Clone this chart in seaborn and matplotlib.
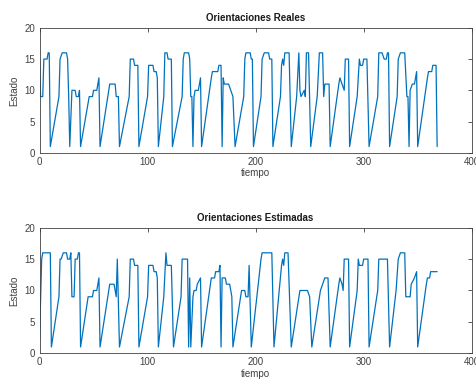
import pandas as pd
import matplotlib
matplotlib.use("Agg")
import matplotlib.pyplot as plt
import seaborn as sns

# vertices of the real orientation trace (tiempo, estado)
t_real = [0, 1, 3, 4, 7, 8, 9, 10, 18, 19, 21, 25, 26, 27, 28, 30, 33, 34, 36, 37, 38,
          46, 49, 50, 53, 55, 56, 65, 70, 71, 73, 74, 83, 84, 87, 88, 91, 92,
          100, 101, 105, 106, 108, 109, 110, 115, 116, 118, 119, 122, 123,
          132, 133, 134, 138, 139, 140, 141, 142, 143, 144, 147, 149, 150,
          159, 160, 165, 166, 168, 169, 170, 171, 175, 177, 179, 181,
          189, 190, 191, 195, 196, 197, 198, 205, 206, 208, 212, 213, 215, 216,
          223, 224, 225, 226, 227, 231, 233, 238, 240, 241, 242, 245, 246, 247, 249, 251,
          257, 259, 262, 263, 264, 268, 269, 277, 278, 280, 282, 283, 286, 287,
          294, 296, 297, 299, 300, 303, 305, 313, 314, 317, 319, 321, 322, 323, 324,
          331, 332, 334, 338, 340, 341, 342, 343, 345, 347, 349, 350,
          359, 360, 363, 364, 367, 368]
v_real = [15, 9, 9, 15, 15, 16, 16, 1, 9, 15, 16, 16, 15, 9, 1, 10, 10, 9, 9, 10, 1,
          9, 9, 10, 10, 12, 1, 11, 11, 9, 9, 1, 9, 15, 15, 14, 14, 1,
          9, 14, 14, 13, 13, 12, 1, 9, 16, 16, 15, 15, 1,
          9, 15, 16, 16, 15, 9, 9, 1, 9, 10, 10, 12, 1,
          12, 13, 13, 14, 14, 1, 12, 11, 11, 10, 9, 1,
          9, 15, 16, 16, 15, 15, 1, 9, 15, 16, 16, 15, 15, 1,
          9, 14, 15, 14, 16, 16, 1, 9, 16, 10, 9, 10, 9, 16, 16, 1,
          9, 16, 16, 9, 11, 11, 1, 11, 12, 11, 10, 15, 15, 1,
          9, 15, 14, 14, 15, 15, 1, 9, 16, 16, 15, 15, 16, 16, 1,
          9, 15, 16, 16, 9, 9, 1, 10, 11, 11, 13, 1,
          12, 13, 13, 14, 14, 1]

# vertices of the estimated orientation trace
t_est = [0, 2, 3, 10, 11, 18, 19, 20, 22, 25, 26, 28, 29, 30, 32, 33, 35, 36, 37, 38,
         45, 49, 50, 53, 55, 56, 65, 69, 70, 71, 72, 74, 83, 84, 87, 88, 91, 92,
         100, 101, 105, 106, 108, 109, 110, 115, 117, 118, 122, 124,
         131, 132, 137, 138, 139, 140, 142, 143, 145, 146, 149, 150,
         159, 162, 163, 166, 167, 168, 169, 172, 173, 176, 177, 178, 179,
         187, 190, 191, 193, 194, 196, 205, 206, 215, 217,
         224, 225, 226, 227, 230, 233, 241, 248, 250, 252,
         260, 262, 264, 267, 269, 277, 278, 280, 281, 282, 286, 287,
         294, 295, 296, 299, 300, 304, 305, 313, 314, 322, 324,
         330, 332, 334, 338, 339, 343, 344, 347, 349, 350,
         358, 359, 361, 362, 368]
v_est = [2, 15, 16, 16, 1, 9, 15, 15, 16, 16, 15, 15, 16, 9, 9, 15, 15, 16, 16, 1,
         9, 9, 10, 10, 12, 1, 11, 11, 10, 9, 15, 1, 9, 15, 15, 14, 14, 1,
         9, 14, 14, 13, 13, 12, 1, 9, 16, 14, 14, 1,
         9, 15, 15, 1, 12, 1, 9, 10, 10, 11, 12, 1,
         12, 12, 13, 13, 14, 1, 12, 12, 11, 11, 10, 9, 1,
         10, 10, 9, 9, 14, 1, 15, 16, 16, 1,
         14, 15, 14, 16, 16, 1, 10, 10, 9, 1,
         10, 11, 12, 12, 1, 11, 12, 11, 10, 15, 15, 1,
         10, 15, 14, 14, 15, 15, 1, 10, 15, 15, 1,
         10, 15, 16, 16, 9, 9, 11, 12, 13, 1,
         11, 12, 12, 13, 13]

titles = ["Orientaciones Reales", "Orientaciones Estimadas"]

sns.set_theme(style="white")
plt.rcParams["font.family"] = ["Liberation Sans", "DejaVu Sans"]

fig = plt.figure(figsize=(4.76, 3.84), dpi=100)
ax1 = fig.add_axes([0.083, 0.602, 0.908, 0.3255])
ax2 = fig.add_axes([0.083, 0.080, 0.908, 0.327])

line_color = "#0072BD"
for ax, t, v, title in [(ax1, t_real, v_real, titles[0]), (ax2, t_est, v_est, titles[1])]:
    sns.lineplot(x=t, y=v, ax=ax, sort=False, estimator=None,
                 color=line_color, linewidth=0.9)
    ax.set_xlim(0, 400)
    ax.set_ylim(0, 20)
    ax.set_xticks([0, 100, 200, 300, 400])
    ax.set_yticks([0, 5, 10, 15, 20])
    ax.tick_params(direction="in", length=3, width=0.6, top=True, right=True,
                   labelsize=7, colors="#404040", pad=3)
    for s in ax.spines.values():
        s.set_color("#404040")
        s.set_linewidth(0.6)
    ax.set_title(title, fontsize=7, fontweight="bold", color="#1a1a1a", pad=5)
    ax.set_xlabel("tiempo", fontsize=7, color="#404040", labelpad=1)
    ax.set_ylabel("Estado", fontsize=7, color="#404040", labelpad=4)

fig.savefig("out.png", dpi=100)
